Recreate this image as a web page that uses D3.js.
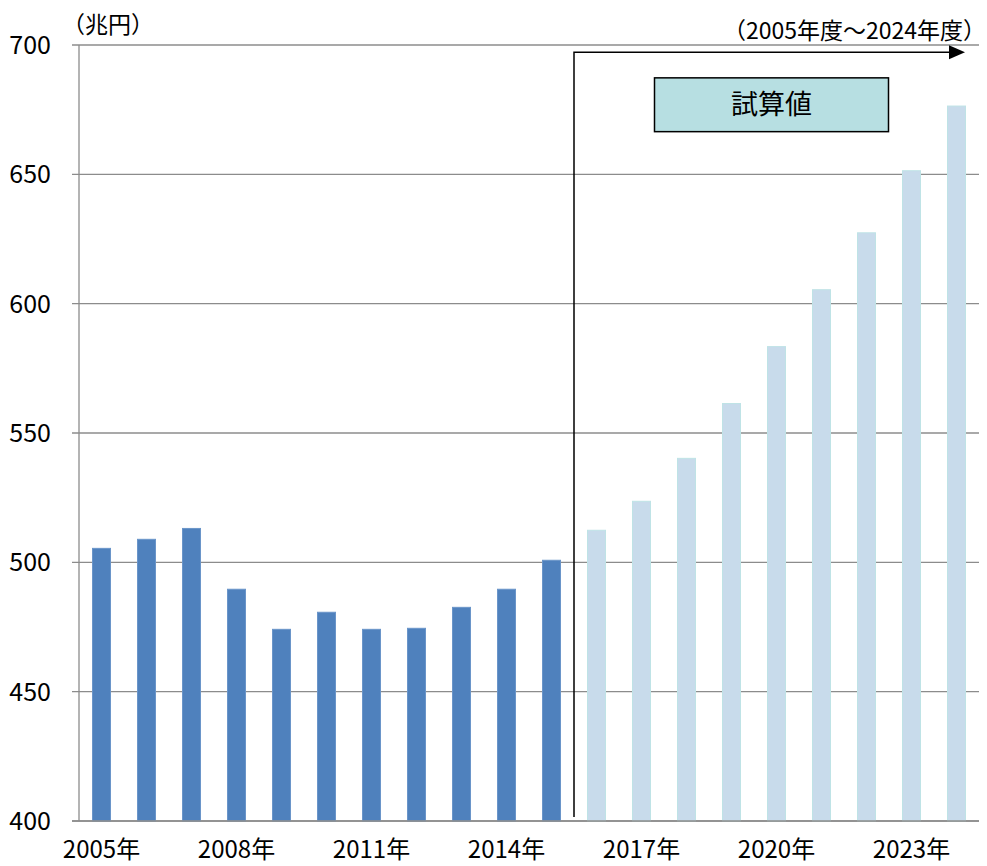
<!DOCTYPE html>
<html>
<head>
<meta charset="utf-8">
<script src="https://cdn.jsdelivr.net/npm/d3@7"></script>
<style>
  body { margin: 0; background: #fff; }
  text { font-family: "Noto Sans CJK JP", "Noto Sans", sans-serif; fill: #000; }
</style>
</head>
<body>
<div id="chart"></div>
<script>
// data
const years = d3.range(2005, 2025);
const actualValues = [505.4, 508.9, 513.1, 489.6, 474.1, 480.7, 474.1, 474.5, 482.6, 489.6, 500.8];
const estimateValues = [512.4, 523.6, 540.2, 561.4, 583.4, 605.4, 627.4, 651.4, 676.4];
const yTicks = [400, 450, 500, 550, 600, 650, 700];
const xLabelYears = [2005, 2008, 2011, 2014, 2017, 2020, 2023];

const values = actualValues.concat(estimateValues);
const data = years.map((y, i) => ({year: y, value: values[i], estimate: i >= actualValues.length}));

const W = 987, H = 866;
const margin = {top: 45, right: 8, bottom: 45, left: 79};
const width = W - margin.left - margin.right;
const height = H - margin.top - margin.bottom;

const svg = d3.select("#chart").append("svg")
    .attr("width", W)
    .attr("height", H);

const g = svg.append("g")
    .attr("transform", `translate(${margin.left}, ${margin.top})`);

// scales
const x = d3.scaleBand()
    .domain(years)
    .range([0, width])
    .paddingInner(0.6)
    .paddingOuter(0.3);

const y = d3.scaleLinear()
    .domain([400, 700])
    .range([height, 0]);

// gridlines
g.append("g")
    .selectAll("line")
    .data(yTicks)
    .join("line")
    .attr("x1", -7)
    .attr("x2", width)
    .attr("y1", d => y(d))
    .attr("y2", d => y(d))
    .attr("stroke", "#8c8c8c")
    .attr("stroke-width", 1.3);

// y axis line
g.append("line")
    .attr("x1", 0).attr("x2", 0)
    .attr("y1", 0).attr("y2", height)
    .attr("stroke", "#8c8c8c")
    .attr("stroke-width", 1.3);

// y tick labels
g.append("g")
    .selectAll("text")
    .data(yTicks)
    .join("text")
    .attr("x", -28)
    .attr("y", d => y(d))
    .attr("dy", "0.36em")
    .attr("text-anchor", "end")
    .style("font-size", "25px")
    .text(d => d);

// bars
g.append("g")
    .selectAll("rect")
    .data(data)
    .join("rect")
    .attr("x", d => x(d.year))
    .attr("width", x.bandwidth())
    .attr("y", d => y(d.value))
    .attr("height", d => height - y(d.value))
    .attr("fill", d => d.estimate ? "#c8dbeb" : "#4f81bd")
    .attr("stroke", d => d.estimate ? "#bfe3e6" : "#6a95c9")
    .attr("stroke-width", 1);

// x labels
g.append("g")
    .selectAll("text")
    .data(xLabelYears)
    .join("text")
    .attr("x", d => x(d) + x.bandwidth() / 2)
    .attr("y", height + 37)
    .attr("text-anchor", "middle")
    .style("font-size", "24px")
    .text(d => d + "年");

// bottom axis line
g.append("line")
    .attr("x1", -7).attr("x2", width)
    .attr("y1", height).attr("y2", height)
    .attr("stroke", "#8c8c8c")
    .attr("stroke-width", 1.3);

// unit label
svg.append("text")
    .attr("x", 62)
    .attr("y", 33)
    .style("font-size", "23px")
    .text("（兆円）");

// period label
svg.append("text")
    .attr("x", W - 1)
    .attr("y", 39)
    .attr("text-anchor", "end")
    .style("font-size", "23px")
    .text("（2005年度～2024年度）");

// arrow marking estimate period
const splitX = (x(2015) + x.bandwidth() + x(2016)) / 2;
const arrowY = y(697.2);
g.append("path")
    .attr("d", `M${splitX},${height - 4} V${arrowY} H${width - 29}`)
    .attr("fill", "none")
    .attr("stroke", "#000")
    .attr("stroke-width", 1.5);
g.append("path")
    .attr("d", `M${width - 30},${arrowY - 7} L${width - 14},${arrowY} L${width - 30},${arrowY + 7} Z`)
    .attr("fill", "#000");

// estimate label box
const boxX = x(2017) + 22, boxW = 234;
g.append("rect")
    .attr("x", boxX)
    .attr("y", y(687.3))
    .attr("width", boxW)
    .attr("height", y(666.5) - y(687.3))
    .attr("fill", "#b7dfe2")
    .attr("stroke", "#000")
    .attr("stroke-width", 1.5);
g.append("text")
    .attr("x", boxX + boxW / 2)
    .attr("y", (y(687.3) + y(666.5)) / 2)
    .attr("dy", "0.36em")
    .attr("text-anchor", "middle")
    .style("font-size", "27px")
    .text("試算値");
</script>
</body>
</html>
